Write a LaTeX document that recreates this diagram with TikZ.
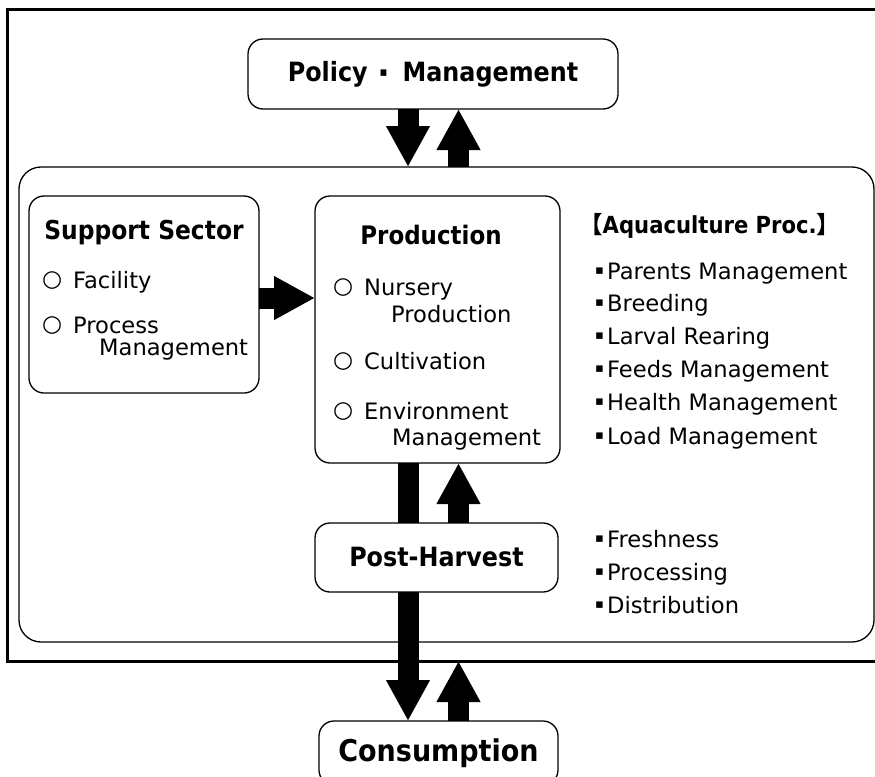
\documentclass[tikz,border=0pt]{standalone}
\usepackage{fontspec}
\setmainfont{DejaVu Sans}
\newfontfamily\tf{DejaVu Sans}[FakeStretch=0.9]
\newfontfamily\cjk{Noto Sans CJK JP}
\usetikzlibrary{arrows.meta}
\newcommand\fs[1]{\fontsize{#1}{#1}\selectfont}
\newcommand\sqb{\makebox[12pt][l]{\fs{13}\raisebox{4.5pt}{▪}}}
\newcommand\ci{\makebox[30pt][l]{\hspace{-1pt}\fs{23}\raisebox{2pt}{○}}}
\begin{document}
\begin{tikzpicture}[x=1pt,y=-1pt,
  box/.style={draw, line width=1.3pt, rounded corners=15pt, inner sep=0pt, outer sep=0pt},
  ttl/.style={font=\tf\bfseries\fs{#1}, inner sep=0pt},
  txt/.style={anchor=base west, inner sep=0pt, font=\fs{22.6}},
  bigarrow/.style={line width=21pt, -{Triangle[length=41pt,width=41pt]}},
  bar/.style={line width=21pt}]
\useasboundingbox (0,0) rectangle (875,776);
\fill[white] (0,0) rectangle (875,776);
% frames
\node[draw, line width=3pt, minimum width=893pt, minimum height=651pt, inner sep=0pt, outer sep=0pt] (outer) at (453.5,335.5) {};
\node[draw, line width=1.3pt, rounded corners=22pt, minimum width=855pt, minimum height=475pt, inner sep=0pt, outer sep=0pt] (inner) at (446.5,404.5) {};
% boxes
\node[box, minimum width=370pt, minimum height=70pt, font=\tf\bfseries\fs{26.5}] (pol) at (433,74) {Policy\hspace{12pt}{\fs{13}\raisebox{5pt}{▪}}\hspace{15pt}Management};
\node[box, minimum width=230pt, minimum height=197pt] (sup) at (144,294.5) {};
\node[box, minimum width=245pt, minimum height=267pt] (prod) at (437.5,329.5) {};
\node[box, minimum width=243pt, minimum height=69pt, font=\tf\bfseries\fs{26.5}] (post) at (436.5,557.5) {Post-Harvest};
\node[box, minimum width=239pt, minimum height=64pt, font=\tf\bfseries\fs{30}] (cons) at (438.5,753) {Consumption};
% support text
\node[ttl=26, anchor=base] (supT) at (144,239) {Support Sector};
\node[txt] (supA) at (43,288) {\ci Facility};
\node[txt] (supB) at (43,333) {\ci Process};
\node[txt] (supC) at (99,355) {Management};
% production text
\node[ttl=25.5, anchor=base] (prodT) at (431,244) {Production};
\node[txt] (prodA) at (334,295) {\ci Nursery};
\node[txt] (prodB) at (391,322) {Production};
\node[txt] (prodC) at (334,369) {\ci Cultivation};
\node[txt] (prodD) at (334,419) {\ci Environment};
\node[txt] (prodE) at (392,445) {Management};
% aquaculture list
\node[ttl=23.5, anchor=base west] (aqT) at (579,233) {{\cjk【}Aquaculture Proc.{\cjk】}};
\node[txt] (aq1) at (595,279) {\sqb Parents Management};
\node[txt] (aq2) at (595,311) {\sqb Breeding};
\node[txt] (aq3) at (595,344) {\sqb Larval Rearing};
\node[txt] (aq4) at (595,377) {\sqb Feeds Management};
\node[txt] (aq5) at (595,410) {\sqb Health Management};
\node[txt] (aq6) at (595,444) {\sqb Load Management};
\node[txt] (ph1) at (595,547) {\sqb Freshness};
\node[txt] (ph2) at (595,580) {\sqb Processing};
\node[txt] (ph3) at (595,613) {\sqb Distribution};
% arrows
\coordinate (dA) at (408,0);
\coordinate (uA) at (458.5,0);
\coordinate (hS) at (0,298);
\draw[bigarrow] (pol.south -| dA) -- (inner.north -| dA);
\draw[bigarrow] (inner.north -| uA) -- (pol.south -| uA);
\draw[bigarrow] (sup.east |- hS) -- (prod.west |- hS);
\draw[bar] (prod.south -| dA) -- (post.north -| dA);
\draw[bigarrow] (post.north -| uA) -- (prod.south -| uA);
\draw[bigarrow] (post.south -| dA) -- (cons.north -| dA);
\draw[bigarrow] (cons.north -| uA) -- (outer.south -| uA);
\end{tikzpicture}
\end{document}
